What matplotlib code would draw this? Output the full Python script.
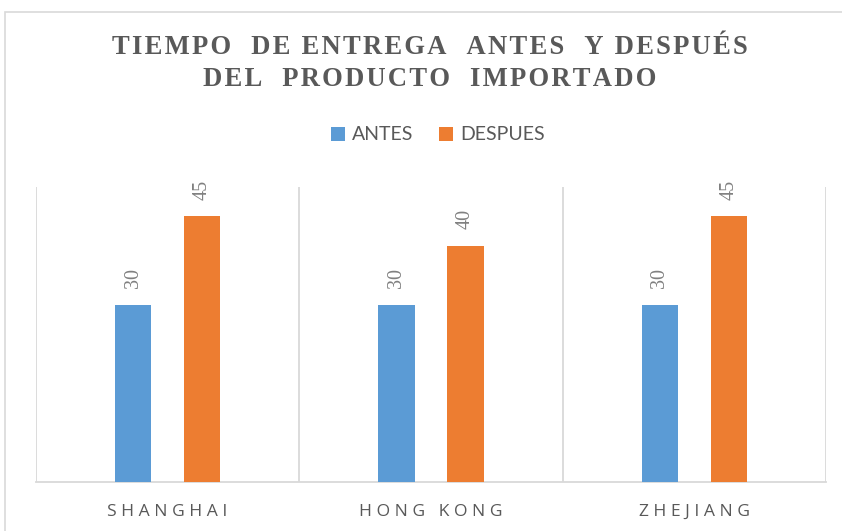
import numpy as np
import matplotlib.pyplot as plt
from matplotlib.patches import Rectangle

categories = ["SHANGHAI", "HONG KONG", "ZHEJIANG"]
antes = [30, 30, 30]
despues = [45, 40, 45]
series_names = ["ANTES", "DESPUES"]
title_lines = ["TIEMPO  DE ENTREGA  ANTES  Y DESPUÉS", "DEL  PRODUCTO  IMPORTADO"]

BLUE = "#5B9BD5"
ORANGE = "#ED7D31"
GRID = "#D9D9D9"
TEXT = "#595959"


def spaced(s, sep):
    # fake letter spacing
    return sep.join(s)


fig = plt.figure(figsize=(8.42, 5.31), dpi=100)
ax = fig.add_axes([36 / 842, 1 - 481.7 / 531, (826 - 36) / 842, (481.7 - 187) / 531])

# outer chart frame
fig.patches.append(Rectangle((5 / 842, -0.05), 1.0, 1 - 12 / 531 + 0.05,
                             transform=fig.transFigure, fill=False,
                             edgecolor=GRID, lw=1.2))

x = np.arange(len(categories))
w = 0.137
off = 0.131
b1 = ax.bar(x - off, antes, w, color=BLUE, label=series_names[0], zorder=3)
b2 = ax.bar(x + off, despues, w, color=ORANGE, label=series_names[1], zorder=3)

for bars in (b1, b2):
    for r in bars:
        ax.annotate(f"{r.get_height():g}", (r.get_x() + r.get_width() / 2, r.get_height()),
                    xytext=(0, 12), textcoords="offset points", rotation=90,
                    ha="center", va="bottom", fontsize=14.5, color="#808080",
                    family="Liberation Serif")

ax.set_xlim(-0.5, len(categories) - 0.5)
ax.set_ylim(0, 50)
for b in np.arange(-0.5, len(categories), 1.0):
    ax.axvline(b, color=GRID, lw=1.3, zorder=1)
for s in ["top", "left", "right"]:
    ax.spines[s].set_visible(False)
ax.spines["bottom"].set_color(GRID)
ax.spines["bottom"].set_linewidth(1.3)
ax.set_yticks([])
ax.set_xticks(x)
ax.set_xticklabels([spaced(c, " ") for c in categories], fontsize=12.6, color=TEXT,
                   family="Open Sans")
ax.tick_params(axis="x", length=0, pad=16)

for i, line in enumerate(title_lines):
    fig.text(430 / 842, 1 - (47 + 32 * i) / 531, spaced(line, "\u200a"), ha="center", va="center",
             fontsize=19.2, fontweight="bold", color=TEXT,
             family=["Liberation Serif", "DejaVu Serif"])

fig.legend(handles=[b1, b2], labels=series_names, loc="center", bbox_to_anchor=(438 / 842, 1 - 135 / 531),
           ncol=2, frameon=False, handlelength=0.7, handleheight=0.7, handletextpad=0.4,
           columnspacing=1.3, prop={"family": "Lato", "size": 14}, labelcolor=TEXT)

fig.savefig("out.png", dpi=100)
